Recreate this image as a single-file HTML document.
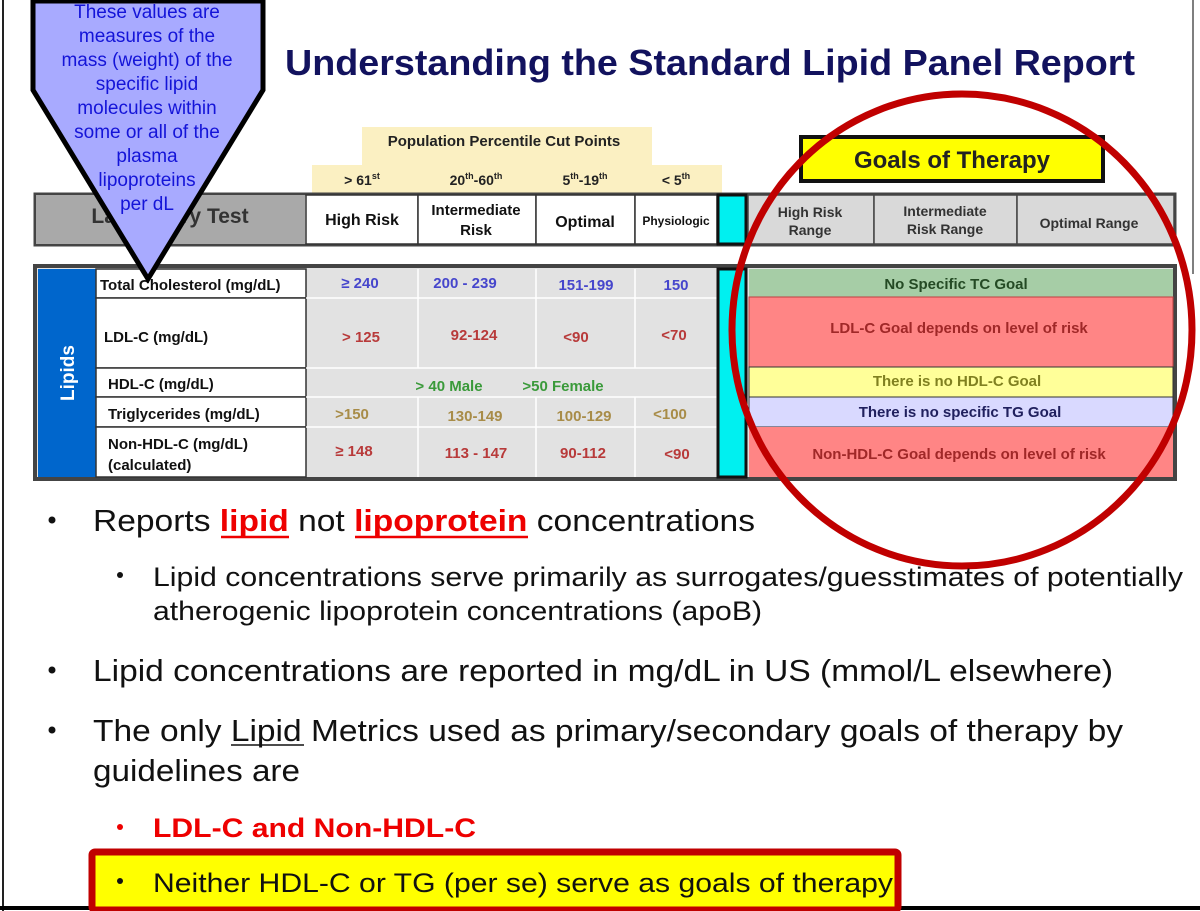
<!DOCTYPE html>
<html><head><meta charset="utf-8"><style>html,body{margin:0;padding:0;background:#fff}svg{display:block}</style></head>
<body>
<svg width="1200" height="911" viewBox="0 0 1200 911" xmlns="http://www.w3.org/2000/svg" font-family="Liberation Sans, sans-serif">
<rect width="1200" height="911" fill="#fff"/>
<line x1="3" y1="0" x2="3" y2="911" stroke="#222" stroke-width="2"/>
<line x1="1193" y1="0" x2="1193" y2="274" stroke="#555" stroke-width="1.5"/>
<line x1="0" y1="908" x2="1200" y2="908" stroke="#000" stroke-width="4"/>

<text x="285" y="75" font-size="36" font-weight="bold" fill="#12125e" textLength="850" lengthAdjust="spacingAndGlyphs">Understanding the Standard Lipid Panel Report</text>

<!-- percentile header -->
<rect x="362" y="127" width="290" height="40" fill="#fbf0c2"/>
<rect x="312" y="165" width="410" height="28" fill="#fbf0c2"/>
<text x="504" y="146" font-size="15" font-weight="bold" text-anchor="middle" fill="#222">Population Percentile Cut Points</text>
<g font-size="14" font-weight="bold" fill="#222" text-anchor="middle">
<text x="362" y="185">&gt; 61<tspan font-size="9" dy="-6">st</tspan></text>
<text x="476" y="185">20<tspan font-size="9" dy="-6">th</tspan><tspan dy="6">-60</tspan><tspan font-size="9" dy="-6">th</tspan></text>
<text x="585" y="185">5<tspan font-size="9" dy="-6">th</tspan><tspan dy="6">-19</tspan><tspan font-size="9" dy="-6">th</tspan></text>
<text x="676" y="185">&lt; 5<tspan font-size="9" dy="-6">th</tspan></text>
</g>

<!-- goals of therapy -->
<rect x="801" y="137" width="302" height="44" fill="#ffff00" stroke="#111" stroke-width="4"/>
<text x="952" y="168" font-size="24" font-weight="bold" text-anchor="middle" fill="#222">Goals of Therapy</text>

<!-- header row -->
<rect x="35" y="194" width="1140" height="51" fill="#d9d9d9" stroke="#444" stroke-width="3"/>
<rect x="36" y="195" width="269" height="49" fill="#a9a9a9"/>
<text x="170" y="223" font-size="21" font-weight="bold" text-anchor="middle" fill="#333">Laboratory Test</text>
<g fill="#fff" stroke="#333" stroke-width="1.5">
<rect x="306" y="195" width="112" height="49"/>
<rect x="418" y="195" width="118" height="49"/>
<rect x="536" y="195" width="99" height="49"/>
<rect x="635" y="195" width="82" height="49"/>
</g>
<rect x="718" y="195" width="28" height="49" fill="#00f0f0" stroke="#111" stroke-width="3"/>
<g fill="#d9d9d9" stroke="#444" stroke-width="1.5">
<rect x="748" y="195" width="126" height="49"/>
<rect x="874" y="195" width="143" height="49"/>
<rect x="1017" y="195" width="157" height="49"/>
</g>
<g font-weight="bold" fill="#111" text-anchor="middle">
<text x="362" y="225" font-size="16">High Risk</text>
<text x="476" y="215" font-size="15">Intermediate</text>
<text x="476" y="235" font-size="15">Risk</text>
<text x="585" y="227" font-size="16">Optimal</text>
<text x="676" y="225" font-size="12">Physiologic</text>
</g>
<g font-weight="bold" fill="#333" text-anchor="middle" font-size="14">
<text x="810" y="217">High Risk</text>
<text x="810" y="235">Range</text>
<text x="945" y="216">Intermediate</text>
<text x="945" y="234">Risk Range</text>
<text x="1089" y="228">Optimal Range</text>
</g>

<!-- main table -->
<rect x="35" y="266" width="1140" height="213" fill="#e2e2e2" stroke="#444" stroke-width="4"/>
<rect x="38" y="269" width="58" height="208" fill="#0066cc"/>
<text transform="translate(74,373) rotate(-90)" font-size="19" font-weight="bold" fill="#fff" text-anchor="middle">Lipids</text>
<g fill="#fff" stroke="#333" stroke-width="1.5">
<rect x="96" y="269" width="210" height="29"/>
<rect x="96" y="298" width="210" height="70"/>
<rect x="96" y="368" width="210" height="29"/>
<rect x="96" y="397" width="210" height="30"/>
<rect x="96" y="427" width="210" height="50"/>
</g>
<g stroke="#fff" stroke-width="1.5">
<line x1="306" y1="298" x2="717" y2="298"/>
<line x1="306" y1="368" x2="717" y2="368"/>
<line x1="306" y1="397" x2="717" y2="397"/>
<line x1="306" y1="427" x2="717" y2="427"/>
<line x1="418" y1="269" x2="418" y2="368"/><line x1="418" y1="397" x2="418" y2="477"/>
<line x1="536" y1="269" x2="536" y2="368"/><line x1="536" y1="397" x2="536" y2="477"/>
<line x1="635" y1="269" x2="635" y2="368"/><line x1="635" y1="397" x2="635" y2="477"/>
</g>
<rect x="718" y="269" width="28" height="208" fill="#00f0f0" stroke="#111" stroke-width="3"/>
<rect x="749" y="269" width="424" height="28" fill="#a6cda6"/>
<rect x="749" y="297" width="424" height="70" fill="#ff8585" stroke="#c04040" stroke-width="1"/>
<rect x="749" y="367" width="424" height="30" fill="#ffff99" stroke="#333" stroke-width="1"/>
<rect x="749" y="397" width="424" height="30" fill="#d9d9ff" stroke="#333" stroke-width="1"/>
<rect x="749" y="427" width="424" height="50" fill="#ff8585"/>

<g font-size="15" font-weight="bold" fill="#111">
<text x="100" y="290">Total Cholesterol (mg/dL)</text>
<text x="104" y="342">LDL-C (mg/dL)</text>
<text x="108" y="389">HDL-C (mg/dL)</text>
<text x="108" y="419">Triglycerides (mg/dL)</text>
<text x="108" y="449">Non-HDL-C (mg/dL)</text>
<text x="108" y="470">(calculated)</text>
</g>
<g font-size="15" font-weight="bold" text-anchor="middle">
<g fill="#4646cc"><text x="360" y="288">≥ 240</text><text x="465" y="288">200 - 239</text><text x="586" y="290">151-199</text><text x="676" y="290">150</text></g>
<g fill="#b83a3a"><text x="361" y="342">&gt; 125</text><text x="474" y="340">92-124</text><text x="576" y="342">&lt;90</text><text x="674" y="340">&lt;70</text></g>
<g fill="#3a9a3a"><text x="449" y="391">&gt; 40 Male</text><text x="563" y="391">&gt;50 Female</text></g>
<g fill="#a88c48"><text x="352" y="419">&gt;150</text><text x="475" y="421">130-149</text><text x="584" y="421">100-129</text><text x="670" y="419">&lt;100</text></g>
<g fill="#b83a3a"><text x="354" y="456">≥ 148</text><text x="476" y="458">113 - 147</text><text x="583" y="458">90-112</text><text x="677" y="459">&lt;90</text></g>
</g>
<g font-size="15" font-weight="bold" text-anchor="middle">
<text x="956" y="289" fill="#244a24">No Specific TC Goal</text>
<text x="959" y="333" fill="#a02828">LDL-C Goal depends on level of risk</text>
<text x="957" y="386" fill="#808020">There is no HDL-C Goal</text>
<text x="960" y="417" fill="#20205e">There is no specific TG Goal</text>
<text x="959" y="459" fill="#a02828">Non-HDL-C Goal depends on level of risk</text>
</g>

<!-- red circle -->
<ellipse cx="962" cy="330" rx="230" ry="236" fill="none" stroke="#c00000" stroke-width="7"/>

<!-- callout -->
<polygon points="33,1 263,1 263,90 148,279 33,90" fill="#a8aaff" stroke="#000" stroke-width="5" stroke-linejoin="miter"/>
<g font-size="19" fill="#1414d8" text-anchor="middle">
<text x="147" y="18">These values are</text>
<text x="147" y="42">measures  of the</text>
<text x="147" y="66">mass (weight) of the</text>
<text x="147" y="90">specific lipid</text>
<text x="147" y="114">molecules within</text>
<text x="147" y="138">some or all of the</text>
<text x="147" y="162">plasma</text>
<text x="147" y="186">lipoproteins</text>
<text x="147" y="210">per dL</text>
</g>

<!-- bullets -->
<g fill="#111">
<circle cx="52" cy="520" r="3.5"/>
<circle cx="120" cy="575" r="3"/>
<circle cx="52" cy="670" r="3.5"/>
<circle cx="52" cy="730" r="3.5"/>
<circle cx="120" cy="827" r="3" fill="#e00"/>
</g>
<text x="93" y="531" font-size="31" fill="#111" textLength="662" lengthAdjust="spacingAndGlyphs">Reports <tspan fill="#e00" font-weight="bold">lipid</tspan> not <tspan fill="#e00" font-weight="bold">lipoprotein</tspan> concentrations</text>
<line x1="221" y1="537" x2="289" y2="537" stroke="#e00" stroke-width="2.5"/>
<line x1="355" y1="537" x2="528" y2="537" stroke="#e00" stroke-width="2.5"/>
<text x="153" y="586" font-size="27" fill="#111" textLength="1030" lengthAdjust="spacingAndGlyphs">Lipid concentrations serve primarily as surrogates/guesstimates of potentially</text>
<text x="153" y="620" font-size="27" fill="#111" textLength="609" lengthAdjust="spacingAndGlyphs">atherogenic lipoprotein concentrations (apoB)</text>
<text x="93" y="681" font-size="31" fill="#111" textLength="1020" lengthAdjust="spacingAndGlyphs">Lipid concentrations are reported in mg/dL in US (mmol/L elsewhere)</text>
<text x="93" y="741" font-size="31" fill="#111" textLength="1030" lengthAdjust="spacingAndGlyphs">The only Lipid Metrics used as primary/secondary goals of therapy by</text>
<line x1="231" y1="745" x2="304" y2="745" stroke="#111" stroke-width="1.5"/>
<text x="93" y="781" font-size="31" fill="#111" textLength="207" lengthAdjust="spacingAndGlyphs">guidelines are</text>
<text x="153" y="837" font-size="27" font-weight="bold" fill="#e00" textLength="323" lengthAdjust="spacingAndGlyphs">LDL-C and Non-HDL-C</text>

<rect x="92" y="852" width="806" height="58" fill="#ffff00" stroke="#c00000" stroke-width="7" rx="3"/>
<circle cx="120" cy="881" r="3" fill="#111"/>
<text x="153" y="892" font-size="27" fill="#111" textLength="740" lengthAdjust="spacingAndGlyphs">Neither HDL-C or TG (per se) serve as goals of therapy</text>
</svg>
</body></html>
